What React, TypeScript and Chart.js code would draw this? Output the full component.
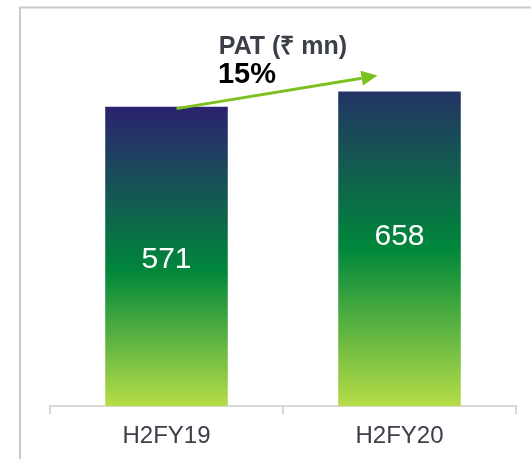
import React, { useEffect, useRef } from "react";
import { Chart, registerables } from "chart.js";

Chart.register(...registerables);

const categories = ["H2FY19", "H2FY20"];
const patValues = [571, 658];
const growthLabel = "15%";
const chartTitle = "PAT (₹ mn)";
const Y_MIN = -1160;
const Y_MAX = 800;

const FONT = "'Liberation Sans', Arial, sans-serif";
const topColors = ["#2b2270", "#233464"];
const midStops = [0.55, 0.5];
const labelFrac = [0.51, 0.46];

const decorPlugin = {
  id: "decor",
  beforeDraw(chart: any) {
    const ctx = chart.ctx;
    ctx.save();
    ctx.fillStyle = "#ffffff";
    ctx.fillRect(0, 0, chart.width, chart.height);
    ctx.strokeStyle = "#c9c9c9";
    ctx.lineWidth = 2;
    ctx.beginPath();
    ctx.moveTo(20, chart.height);
    ctx.lineTo(20, 7.5);
    ctx.lineTo(chart.width, 7.5);
    ctx.stroke();
    ctx.restore();
  },
  afterDatasetsDraw(chart: any) {
    const ctx = chart.ctx;
    const meta = chart.getDatasetMeta(0);
    const yScale = chart.scales.y;
    const basePx = yScale.getPixelForValue(Y_MIN);
    ctx.save();
    // value labels
    ctx.fillStyle = "#ffffff";
    ctx.font = `30px ${FONT}`;
    ctx.textAlign = "center";
    ctx.textBaseline = "middle";
    meta.data.forEach((bar: any, i: number) => {
      const top = bar.y;
      const y = top + (basePx - top) * labelFrac[i];
      ctx.fillText(String(patValues[i]), bar.x, y);
    });
    // title
    ctx.fillStyle = "#3b3f48";
    ctx.font = `bold 25px ${FONT}`;
    ctx.textBaseline = "alphabetic";
    ctx.fillText(chartTitle, 283, 54);
    // arrow
    const b0 = meta.data[0];
    const b1 = meta.data[1];
    const x0 = b0.x + 10;
    const y0 = b0.y + 2;
    const x1 = b1.x - 22;
    const y1 = b1.y - 16;
    const ang = Math.atan2(y1 - y0, x1 - x0);
    const headLen = 16;
    const headW = 7.5;
    const lx = x1 - headLen * Math.cos(ang);
    const ly = y1 - headLen * Math.sin(ang);
    ctx.strokeStyle = "#7cc11f";
    ctx.fillStyle = "#7cc11f";
    ctx.lineWidth = 3;
    ctx.beginPath();
    ctx.moveTo(x0, y0);
    ctx.lineTo(lx, ly);
    ctx.stroke();
    ctx.beginPath();
    ctx.moveTo(x1, y1);
    ctx.lineTo(lx + headW * Math.sin(ang), ly - headW * Math.cos(ang));
    ctx.lineTo(lx - headW * Math.sin(ang), ly + headW * Math.cos(ang));
    ctx.closePath();
    ctx.fill();
    // growth label
    ctx.fillStyle = "#000000";
    ctx.font = `bold 29px ${FONT}`;
    ctx.textAlign = "center";
    ctx.fillText(growthLabel, 247, 83);
    ctx.restore();
  },
};

export default function App() {
  const ref = useRef<HTMLCanvasElement>(null);
  useEffect(() => {
    if (!ref.current) return;
    const chart = new Chart(ref.current, {
      type: "bar",
      data: {
        labels: categories,
        datasets: [
          {
            data: patValues,
            base: Y_MIN,
            barPercentage: 0.526,
            categoryPercentage: 1,
            backgroundColor: (c: any) => {
              const ch = c.chart;
              const ys = ch.scales && ch.scales.y;
              if (!ys || c.dataIndex === undefined) return "#00873a";
              const i = c.dataIndex;
              const top = ys.getPixelForValue(patValues[i]);
              const bot = ys.getPixelForValue(Y_MIN);
              if (!isFinite(top) || !isFinite(bot)) return "#00873a";
              const g = ch.ctx.createLinearGradient(0, top, 0, bot);
              g.addColorStop(0, topColors[i]);
              g.addColorStop(midStops[i], "#00873a");
              g.addColorStop(1, "#b6dd48");
              return g;
            },
            borderWidth: 0,
          } as any,
        ],
      },
      options: {
        animation: false,
        responsive: false,
        layout: { padding: { left: 50, right: 15, top: 67, bottom: 0 } },
        plugins: { legend: { display: false }, tooltip: { enabled: false } },
        scales: {
          x: {
            offset: true,
            grid: {
              offset: true,
              drawOnChartArea: false,
              drawTicks: true,
              tickLength: 8,
              color: "#d9d9d9",
              lineWidth: 2,
            },
            border: { display: true, color: "#d9d9d9", width: 2 },
            ticks: {
              color: "#3b3f48",
              font: { family: FONT, size: 24 },
              padding: 8,
            },
          },
          y: {
            display: false,
            min: Y_MIN,
            max: Y_MAX,
          },
        },
      },
      plugins: [decorPlugin],
    });
    return () => chart.destroy();
  }, []);
  return (
    <div style={{ position: "absolute", left: 0, top: 0, width: 531, height: 459 }}>
      <canvas ref={ref} width={531} height={459} style={{ width: 531, height: 459 }} />
    </div>
  );
}
